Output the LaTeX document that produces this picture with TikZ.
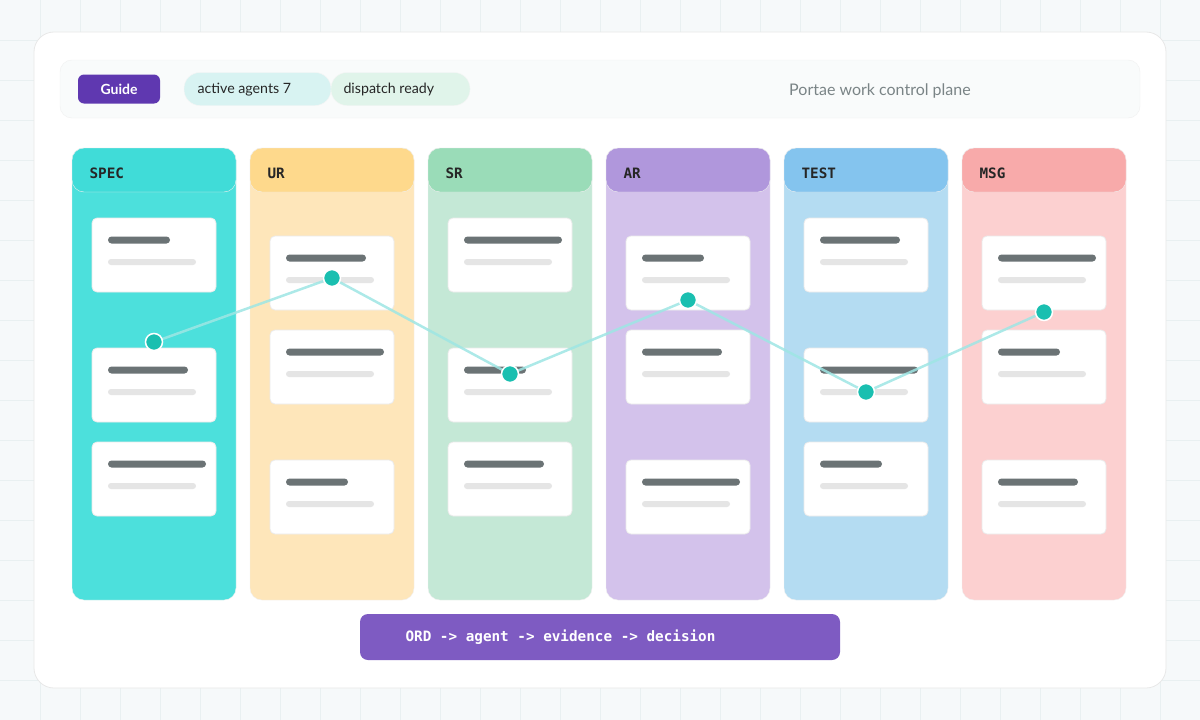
\documentclass[tikz,border=0pt]{standalone}
\usepackage{fontspec}
\setmainfont{Lato}
\setmonofont{DejaVu Sans Mono}
\begin{document}
\begin{tikzpicture}[x=1pt,y=-1pt,
  card/.style={fill=white,draw=black!8,line width=0.8pt,rounded corners=5pt},
  darkbar/.style={fill=barc,rounded corners=3.5pt},
  lightbar/.style={fill=black!10,rounded corners=3pt},
  dot/.style={circle,fill=dotc,draw=white,line width=1.5pt,minimum size=17pt,inner sep=0pt},
  hdr/.style={font=\ttfamily\bfseries\fontsize{14.3}{16}\selectfont,text=black!85,anchor=west}]
\definecolor{dotc}{HTML}{1ABFB0}
\definecolor{bg}{HTML}{F6F9FA}
\definecolor{gridc}{HTML}{E9F0F1}
\definecolor{barc}{HTML}{6B7375}
\definecolor{linkc}{HTML}{9EE6E4}
\definecolor{guidec}{HTML}{5F38B0}
\definecolor{flowc}{HTML}{7E5BC2}
\definecolor{topc}{HTML}{F9FBFB}
\definecolor{pilla}{HTML}{D8F3F2}
\definecolor{pillb}{HTML}{E0F4EA}
\definecolor{titlec}{HTML}{7A8486}
\useasboundingbox (0,0) rectangle (1200,720);
\fill[bg] (0,0) rectangle (1200,720);
\foreach \i in {1,...,29} \draw[gridc,line width=0.8pt] (\i*40,0) -- (\i*40,720);
\foreach \i in {1,...,17} \draw[gridc,line width=0.8pt] (0,\i*40) -- (1200,\i*40);
\node[draw=black!9,fill=white,rounded corners=20pt,line width=0.8pt,minimum width=1132pt,minimum height=656pt,inner sep=0pt] (panel) at (600,360) {};
\node[draw=black!6,fill=topc,rounded corners=12pt,minimum width=1080pt,minimum height=58pt,inner sep=0pt] (top) at (600,89) {};
\node[fill=guidec,rounded corners=6pt,minimum width=82pt,minimum height=29pt,text=white,font=\bfseries\fontsize{14}{16}\selectfont] (guide) at (119,89) {Guide};
\node[fill=pilla,draw=black!4,rounded corners=16pt,minimum width=147pt,minimum height=33pt] (p1) at (257.5,89) {};
\node[anchor=west,font=\fontsize{14.2}{16}\selectfont,text=black!85] (p1t) at (194,89.5) {active agents 7};
\node[fill=pillb,draw=black!4,rounded corners=16pt,minimum width=139pt,minimum height=33pt] (p2) at (400.5,89) {};
\node[anchor=west,font=\fontsize{14.2}{16}\selectfont,text=black!85] (p2t) at (340,89.5) {dispatch ready};
\node[font=\fontsize{16}{18}\selectfont,text=titlec] (title) at (880,90.5) {Portae work control plane};
\foreach \x/\hc/\bc/\lab/\n in {72/40DCD8/4CE0DC/SPEC/a,250/FED98C/FEE6BA/UR/b,428/9ADCB8/C4E8D6/SR/c,606/B097DC/D3C2EB/AR/d,784/84C4EE/B4DCF2/TEST/e,962/F8AAAA/FCD0D0/MSG/f}{
  \definecolor{hc}{HTML}{\hc}\definecolor{bc}{HTML}{\bc}
  \filldraw[fill=bc,draw=black!6,rounded corners=12pt] (\x,148) rectangle (\x+164,600);
  \filldraw[fill=hc,draw=black!6,rounded corners=12pt] (\x,148) rectangle (\x+164,192);
  \node[hdr] (h\n) at (\x+14,173.5) {\lab};
}
\foreach \x/\t/\w in {72/218/62,72/348/80,72/442/98,
  250/236/80,250/330/98,250/460/62,
  428/218/98,428/348/62,428/442/80,
  606/236/62,606/330/80,606/460/98,
  784/218/80,784/348/98,784/442/62,
  962/236/98,962/330/62,962/460/80}{
  \draw[card] (\x+20,\t) rectangle (\x+144,\t+74);
  \fill[darkbar] (\x+36,\t+18.5) rectangle (\x+36+\w,\t+25.5);
  \fill[lightbar] (\x+36,\t+41) rectangle (\x+124,\t+47);
}
\coordinate (d1) at (154,342);
\coordinate (d2) at (332,278);
\coordinate (d3) at (510,374);
\coordinate (d4) at (688,300);
\coordinate (d5) at (866,392);
\coordinate (d6) at (1044,312);
\draw[linkc,line width=2.5pt,opacity=0.85] (d1)--(d2)--(d3)--(d4)--(d5)--(d6);
\foreach \n in {1,...,6} \node[dot] (n\n) at (d\n) {};
\node[fill=flowc,rounded corners=8pt,minimum width=480pt,minimum height=46pt] (flow) at (600,637) {};
\node[anchor=west,text=white,font=\ttfamily\bfseries\fontsize{14.3}{16}\selectfont] (flowt) at (402,637) {ORD -> agent -> evidence -> decision};
\end{tikzpicture}
\end{document}
